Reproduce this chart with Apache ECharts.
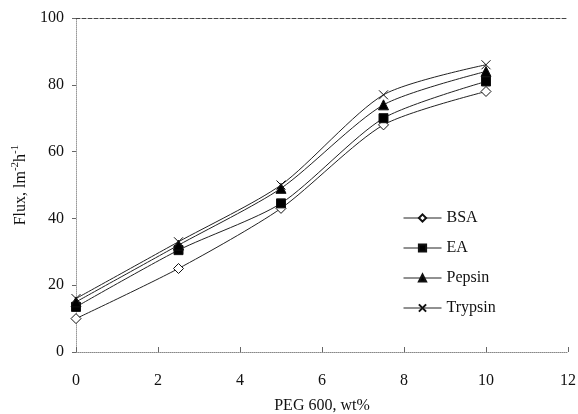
<!DOCTYPE html>
<html>
<head>
<meta charset="utf-8">
<script src="https://cdn.jsdelivr.net/npm/echarts@6/dist/echarts.min.js"></script>
<style>
html, body { margin: 0; padding: 0; background: #fff; }
#chart { width: 578px; height: 414px; }
</style>
</head>
<body>
<div id="chart"></div>
<script>
var myChart = echarts.init(document.getElementById('chart'));

// PEG 600 content, wt%
var peg = [0, 2.5, 5, 7.5, 10];
// flux values
var bsa = [10, 25, 43, 68, 78];
var ea = [13.5, 30.5, 44.5, 70, 81];
var pepsin = [15, 32, 49, 74, 84];
var trypsin = [16, 33, 50, 77, 86];

var font = 'Liberation Serif';
var crossPath = 'path://M0,0L10,10M10,0L0,10';

function pairs(ys) {
    return peg.map(function (x, i) { return [x, ys[i]]; });
}

function makeSeries(name, ys, symbol, size, fill) {
    return {
        name: name,
        type: 'line',
        smooth: 0.25,
        data: pairs(ys),
        symbol: symbol,
        symbolSize: size,
        showAllSymbol: true,
        lineStyle: { color: '#222', width: 1 },
        itemStyle: { color: fill, borderColor: '#111', borderWidth: 1 },
        emphasis: { disabled: true },
        z: 3
    };
}

var option = {
    animation: false,
    backgroundColor: '#fff',
    textStyle: { fontFamily: font },
    grid: { left: 76, right: 10, top: 18, bottom: 62, outerBoundsMode: 'none', containLabel: false },
    legend: {
        orient: 'vertical',
        left: 398,
        top: 205,
        itemWidth: 38,
        itemHeight: 9,
        itemGap: 14,
        lineStyle: { width: 1 },
        textStyle: { fontFamily: font, fontSize: 16, color: '#111' },
        data: ['BSA', 'EA', 'Pepsin', 'Trypsin']
    },
    xAxis: [{
        type: 'value',
        min: 0,
        max: 12,
        interval: 2,
        name: 'PEG 600, wt%',
        nameLocation: 'middle',
        nameGap: 46,
        nameTextStyle: { fontFamily: font, fontSize: 16, color: '#111' },
        axisLine: { show: true, lineStyle: { color: '#888', type: 'dotted' } },
        axisTick: { show: true, inside: true, length: 5, lineStyle: { color: '#666' } },
        axisLabel: { fontFamily: font, fontSize: 16, color: '#111', margin: 21 },
        splitLine: { show: false }
    }, {
        type: 'value',
        position: 'top',
        min: 0,
        max: 12,
        interval: 2,
        axisLine: { show: true, lineStyle: { color: '#444', type: 'dashed', width: 1 } },
        axisTick: { show: false },
        axisLabel: { show: false },
        splitLine: { show: false }
    }],
    yAxis: {
        type: 'value',
        min: 0,
        max: 100,
        interval: 20,
        name: '{n|Flux, lm}{s|-2}{n|h}{s|-1}',
        nameLocation: 'middle',
        nameGap: 42,
        nameTextStyle: {
            rich: {
                n: { fontFamily: font, fontSize: 16, color: '#111', verticalAlign: 'bottom' },
                s: { fontFamily: font, fontSize: 11, color: '#111', verticalAlign: 'top', padding: [0, 0, 8, 0] }
            }
        },
        axisLine: { show: true, lineStyle: { color: '#999', type: 'dotted' } },
        axisTick: { show: true, length: 4, lineStyle: { color: '#666' } },
        axisLabel: { fontFamily: font, fontSize: 16, color: '#111', margin: 12 },
        splitLine: { show: false }
    },
    series: [
        makeSeries('BSA', bsa, 'diamond', 10, '#fff'),
        makeSeries('EA', ea, 'rect', 9, '#000'),
        makeSeries('Pepsin', pepsin, 'triangle', 10, '#000'),
        makeSeries('Trypsin', trypsin, crossPath, 9, 'none')
    ]
};

myChart.setOption(option);
</script>
</body>
</html>
